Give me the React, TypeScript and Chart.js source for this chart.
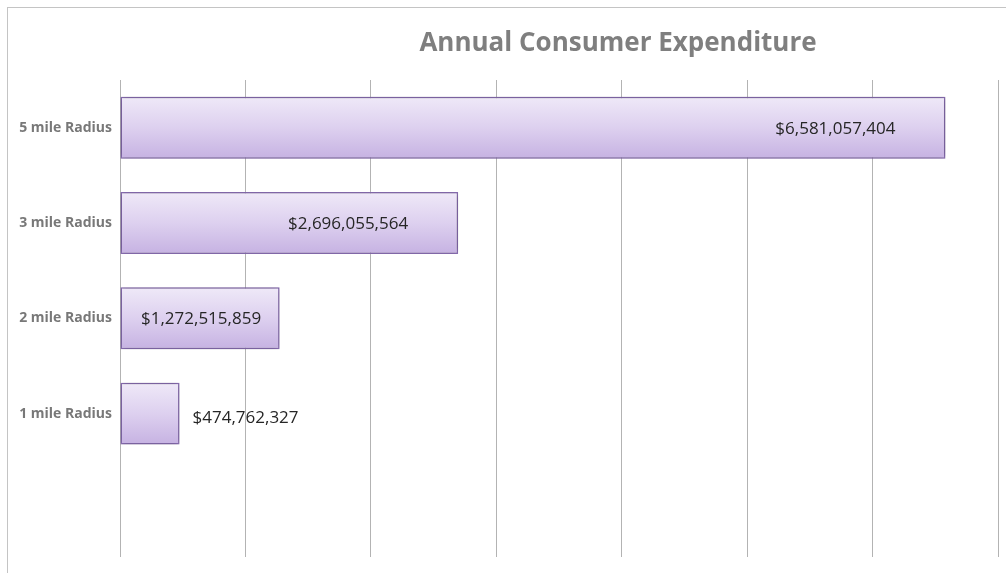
import React, { useEffect, useRef } from "react";
import { Chart, registerables } from "chart.js";

Chart.register(...registerables);

const categories = ["5 mile Radius", "3 mile Radius", "2 mile Radius", "1 mile Radius", ""];
const expenditure = [6581057404, 2696055564, 1272515859, 474762327, 0];
const labelPlacement = ["insideEnd", "insideEnd", "center", "outside", "none"];
const axisMax = 7000000000;
const axisStep = 1000000000;
const titleText = "Annual Consumer Expenditure";

const fmt = (v: number) => "$" + v.toLocaleString("en-US");

const barStyle = {
  id: "barStyle",
  beforeDatasetsDraw(chart: any) {
    const ctx = chart.ctx;
    const meta = chart.getDatasetMeta(0);
    meta.data.forEach((el: any) => {
      const top = el.y - el.height / 2;
      const bottom = el.y + el.height / 2;
      const g = ctx.createLinearGradient(0, top, 0, bottom);
      g.addColorStop(0, "#efe9f8");
      g.addColorStop(0.5, "#ddd0ef");
      g.addColorStop(1, "#c6b2e2");
      el.options = { ...el.options, backgroundColor: g };
    });
    ctx.save();
    ctx.shadowColor = "rgba(0,0,0,0.35)";
    ctx.shadowBlur = 5;
    ctx.shadowOffsetX = 0;
    ctx.shadowOffsetY = 0;
  },
  afterDatasetsDraw(chart: any) {
    const ctx = chart.ctx;
    ctx.restore();
    const meta = chart.getDatasetMeta(0);
    ctx.save();
    ctx.font = "17px 'Open Sans'";
    ctx.fillStyle = "#262626";
    ctx.textBaseline = "middle";
    meta.data.forEach((el: any, i: number) => {
      const mode = labelPlacement[i];
      if (mode === "none") return;
      const text = fmt(expenditure[i]);
      const x0 = el.base;
      const x1 = el.x;
      if (mode === "insideEnd") {
        ctx.textAlign = "right";
        ctx.fillText(text, x1 - 50, el.y + 1);
      } else if (mode === "center") {
        ctx.textAlign = "center";
        ctx.fillText(text, (x0 + x1) / 2 + 1, el.y + 1);
      } else {
        ctx.textAlign = "left";
        ctx.fillText(text, x1 + 13, el.y + 5);
      }
    });
    ctx.restore();
  },
  afterDraw(chart: any) {
    const ctx = chart.ctx;
    ctx.save();
    ctx.font = "bold 26px 'Open Sans'";
    ctx.fillStyle = "#7f7f7f";
    ctx.textAlign = "center";
    ctx.textBaseline = "middle";
    ctx.fillText(titleText, 618, 44);
    ctx.restore();
  },
};

export default function App() {
  const ref = useRef<HTMLCanvasElement>(null);
  useEffect(() => {
    document.body.style.margin = "0";
    const chart = new Chart(ref.current!, {
      type: "bar",
      data: {
        labels: categories,
        datasets: [
          {
            data: expenditure,
            borderColor: "#8b6fb5",
            borderWidth: 1.5,
            borderSkipped: false,
            categoryPercentage: 1,
            barPercentage: 0.65,
          },
        ],
      },
      options: {
        indexAxis: "y",
        animation: false,
        responsive: false,
        maintainAspectRatio: false,
        layout: { padding: { left: 0, top: 80, right: 8, bottom: 15 } },
        plugins: { legend: { display: false }, title: { display: false }, tooltip: { enabled: false } },
        scales: {
          x: {
            min: 0,
            max: axisMax,
            ticks: { display: false, stepSize: axisStep },
            grid: { color: "#b3b3b3", lineWidth: 1, drawTicks: false },
            border: { display: false },
          },
          y: {
            ticks: {
              color: "#787878",
              font: { family: "'Open Sans'", size: 14, weight: "bold" },
              padding: 8,
            },
            grid: { display: false, drawTicks: false },
            border: { display: false },
            afterFit(scale: any) {
              scale.width = 120;
            },
          },
        },
      },
      plugins: [barStyle],
    } as any);
    return () => chart.destroy();
  }, []);
  return (
    <div style={{ position: "relative", width: 1006, height: 573, overflow: "hidden", background: "#fff" }}>
      <div
        style={{
          position: "absolute",
          left: 7,
          top: 7,
          width: 1010,
          height: 600,
          borderLeft: "1px solid #c4c4c4",
          borderTop: "1px solid #c4c4c4",
        }}
      />
      <canvas ref={ref} width={1006} height={573} style={{ position: "absolute", left: 0, top: 0 }} />
    </div>
  );
}
